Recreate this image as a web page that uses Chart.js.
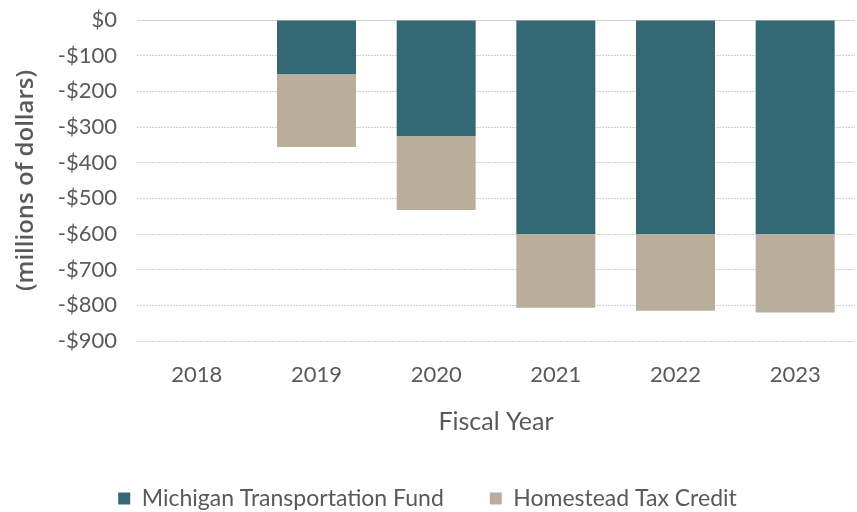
<!DOCTYPE html>
<html>
<head>
<meta charset="utf-8">
<script src="https://cdn.jsdelivr.net/npm/chart.js@4"></script>
<style>
html,body{margin:0;padding:0;background:#fff;}
#wrap{width:857px;height:512px;}
</style>
</head>
<body>
<div id="wrap"><canvas id="c" width="857" height="512"></canvas></div>
<script>
const years = ['2018','2019','2020','2021','2022','2023'];
const mtf = [0, -152, -325, -600, -600, -600];
const htc = [0, -204, -208, -207, -215, -220];
const seriesNames = ['Michigan Transportation Fund','Homestead Tax Credit'];
const yTicks = [0,-100,-200,-300,-400,-500,-600,-700,-800,-900];

const grey = '#595959';
new Chart(document.getElementById('c'), {
  type: 'bar',
  data: {
    labels: years,
    datasets: [
      {label: seriesNames[0], data: mtf, backgroundColor: '#346875', barPercentage: 0.66, categoryPercentage: 1},
      {label: seriesNames[1], data: htc, backgroundColor: '#b8ae9b', barPercentage: 0.66, categoryPercentage: 1}
    ]
  },
  options: {
    responsive: false,
    animation: false,
    layout: {padding: {top: 20, right: 2, left: 0, bottom: -8}},
    plugins: {
      tooltip: {enabled: false},
      legend: {
        position: 'bottom',
        labels: {
          color: grey,
          font: {family: 'Lato', size: 23},
          boxWidth: 12, boxHeight: 12,
          padding: 46
        }
      }
    },
    scales: {
      x: {
        stacked: true,
        grid: {display: false},
        border: {display: false},
        ticks: {color: grey, font: {family: 'Lato', size: 22}, padding: 13},
        title: {display: true, text: 'Fiscal Year', color: grey, font: {family: 'Lato', size: 25}, padding: {top: 5}},
        afterFit: s => { s.height = 100; }
      },
      y: {
        stacked: true,
        min: -900, max: 0,
        afterBuildTicks: s => { s.ticks = yTicks.map(v => ({value: v})); },
        grid: {
          color: ctx => ctx.tick && ctx.tick.value === 0 ? '#d0d0d0' : '#cfcfcf',
          lineWidth: 1,
          drawTicks: false
        },
        border: {display: false, dash: ctx => (ctx.tick && ctx.tick.value === 0) ? [] : [2, 1]},
        ticks: {
          color: grey,
          font: {family: 'Lato', size: 22},
          padding: 20,
          callback: v => v === 0 ? '$0' : '-$' + Math.abs(v)
        },
        title: {display: true, text: '(millions of dollars)', color: grey, font: {family: 'Open Sans', size: 24, weight: '600'}, padding: {top: 12, bottom: 0}},
        afterFit: s => { s.width = 137; s.paddingTop = 0; s.paddingBottom = 0; }
      }
    }
  }
});
</script>
</body>
</html>
